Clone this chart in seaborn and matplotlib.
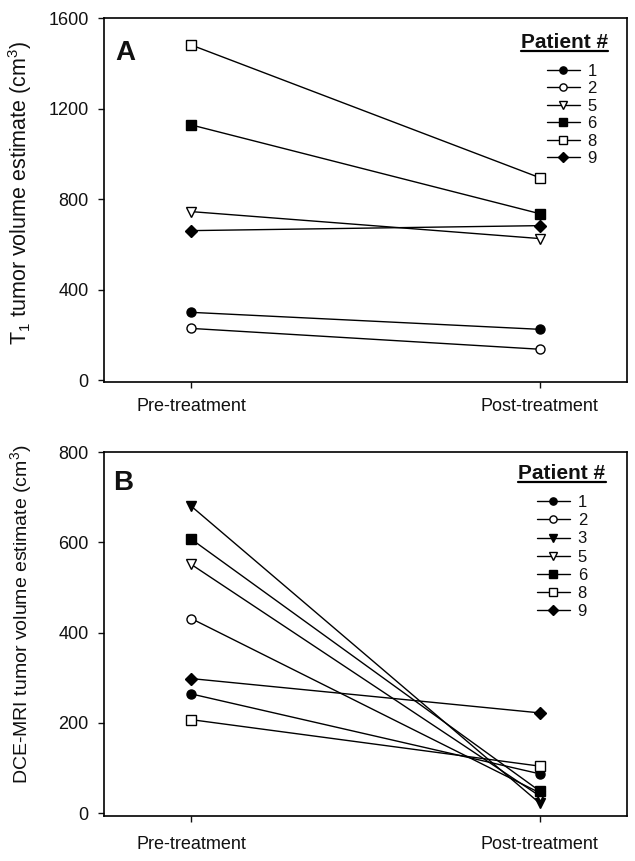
import numpy as np
import pandas as pd
import seaborn as sns
import matplotlib.pyplot as plt
from matplotlib.lines import Line2D

stages = ['Pre-treatment', 'Post-treatment']

# Panel A: T1 tumor volume estimate (cm3)
patients_a = ['1', '2', '5', '6', '8', '9']
pre_a = [300, 229, 745, 1128, 1481, 661]
post_a = [225, 137, 626, 736, 895, 683]

# Panel B: DCE-MRI tumor volume estimate (cm3)
patients_b = ['1', '2', '3', '5', '6', '8', '9']
pre_b = [264, 431, 680, 551, 607, 207, 298]
post_b = [87, 45, 22, 38, 49, 104, 222]

# marker shape and fill for each patient
markers = {'1': 'o', '2': 'o', '3': 'v', '5': 'v', '6': 's', '8': 's', '9': 'D'}
fills = {'1': 'k', '2': 'w', '3': 'k', '5': 'w', '6': 'k', '8': 'w', '9': 'k'}
msizes = {'o': 6.5, 'v': 7.5, 's': 7, 'D': 6.5}

sns.set_style('ticks')
plt.rcParams['font.family'] = ['Liberation Sans', 'DejaVu Sans']
plt.rcParams['mathtext.fontset'] = 'custom'
plt.rcParams['mathtext.rm'] = 'Liberation Sans'
plt.rcParams['mathtext.it'] = 'Liberation Sans:italic'
for key in ['text.color', 'axes.labelcolor', 'xtick.color', 'ytick.color']:
    plt.rcParams[key] = '#111111'

fig = plt.figure(figsize=(6.35, 8.61), dpi=100)
ax_a = fig.add_axes([0.164, 0.556, 0.823, 0.423])
ax_b = fig.add_axes([0.164, 0.052, 0.823, 0.423])


def draw_panel(ax, patients, pre, post, xpad):
    df = pd.DataFrame({
        'patient': np.repeat(patients, 2),
        'x': np.tile([0, 1], len(patients)),
        'volume': np.ravel(np.column_stack([pre, post])),
    })
    for p in patients:
        sub = df[df['patient'] == p]
        sns.lineplot(data=sub, x='x', y='volume', ax=ax, errorbar=None,
                     color='k', lw=1, marker=markers[p], ms=msizes[markers[p]],
                     markerfacecolor=fills[p], markeredgecolor='k',
                     markeredgewidth=1, label=p)
    ax.set_xlim(-0.25, 1.25)
    ax.set_xticks([0, 1], stages)
    ax.set_xlabel('')
    for s in ax.spines.values():
        s.set_color('k')
        s.set_linewidth(1.2)
    ax.tick_params(direction='out', length=4, width=1, labelsize=13,
                   top=False, right=False)
    ax.tick_params(axis='x', pad=xpad)
    ax.tick_params(axis='y', pad=7)


draw_panel(ax_a, patients_a, pre_a, post_a, 7)
ax_a.set_ylim(-9, 1600)
ax_a.set_yticks([0, 400, 800, 1200, 1600])
ax_a.set_ylabel('T$_1$ tumor volume estimate (cm$^3$)', fontsize=15.5)
ax_a.yaxis.set_label_coords(-0.134, 0.52)
ax_a.text(0.021, 0.885, 'A', transform=ax_a.transAxes, fontsize=20,
          fontweight='bold', va='baseline')

draw_panel(ax_b, patients_b, pre_b, post_b, 10.5)
ax_b.set_ylim(-7, 800)
ax_b.set_yticks([0, 200, 400, 600, 800])
ax_b.set_ylabel('DCE-MRI tumor volume estimate (cm$^3$)', fontsize=14)
ax_b.yaxis.set_label_coords(-0.134, 0.555)
ax_b.text(0.017, 0.895, 'B', transform=ax_b.transAxes, fontsize=20,
          fontweight='bold', va='baseline')

titles = []
for ax, anchor, tpos, spacing in [(ax_a, (0.943, 0.875), (0.881, 0.918), 0.15),
                                  (ax_b, (0.924, 0.882), (0.876, 0.926), 0.19)]:
    ax.legend(loc='upper right', bbox_to_anchor=anchor, frameon=False,
              fontsize=12, handlelength=2.0, handletextpad=0.45,
              labelspacing=spacing, borderpad=0, borderaxespad=0,
              markerscale=0.8)
    t = ax.text(tpos[0], tpos[1], 'Patient #', transform=ax.transAxes,
                ha='center', va='baseline', fontsize=15, fontweight='bold')
    titles.append(t)

# underline the legend titles
fig.canvas.draw()
renderer = fig.canvas.get_renderer()
for t in titles:
    bb = t.get_window_extent(renderer)
    (x0, y0), (x1, _) = fig.transFigure.inverted().transform(
        [[bb.x0, bb.y0 + 1], [bb.x1, bb.y0 + 1]])
    fig.add_artist(Line2D([x0, x1], [y0, y0], color='k', lw=1.6,
                          transform=fig.transFigure))

fig.savefig('out.png', dpi=100)
